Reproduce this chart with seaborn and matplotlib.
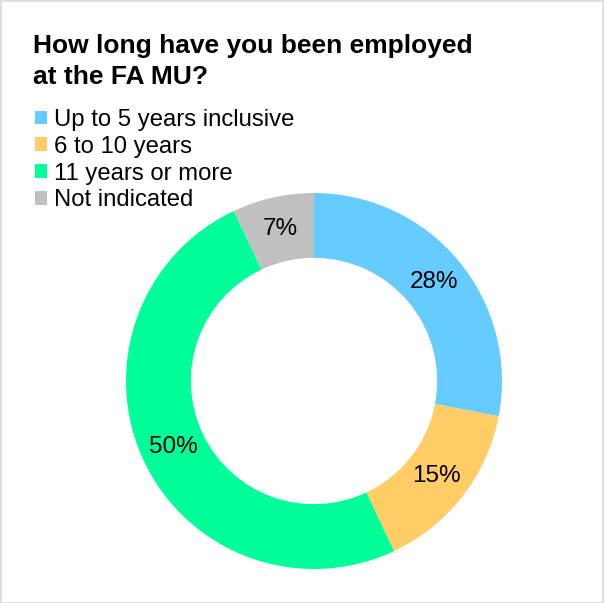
import matplotlib
matplotlib.use("Agg")
import matplotlib.pyplot as plt
import seaborn as sns
from matplotlib.patches import Patch, Rectangle

categories = ["Up to 5 years inclusive", "6 to 10 years", "11 years or more", "Not indicated"]
values = [28, 15, 50, 7]
colors = ["#66CCFF", "#FFCC66", "#00FF99", "#C0C0C0"]
title = "How long have you been employed\nat the FA MU?"

sns.set_theme(style="white")
plt.rcParams['font.family'] = ['Liberation Sans', 'DejaVu Sans']
plt.rcParams['text.color'] = 'black'

W, H = 606, 603
fig = plt.figure(figsize=(W / 100, H / 100), dpi=100)
fig.patch.set_facecolor("white")

cx, cy, R = 314, 381, 188
ax = fig.add_axes([(cx - R) / W, (H - cy - R) / H, 2 * R / W, 2 * R / H])
wedges, texts, autotexts = ax.pie(
    values, colors=sns.color_palette(colors), startangle=90, counterclock=False,
    radius=1, wedgeprops=dict(width=0.345, edgecolor="none", linewidth=0),
    autopct=lambda p: f"{p:.0f}%", pctdistance=0.827,
    textprops=dict(fontsize=17.5, color="black"))
ax.set_xlim(-1, 1)
ax.set_ylim(-1, 1)
ax.set_aspect("equal")
ax.axis("off")

fig.text(33 / W, 1 - 34 / H, title, ha="left", va="top", fontsize=19,
         fontweight="bold", linespacing=1.38, color="black")

handles = [Patch(facecolor=c, edgecolor="none") for c in colors]
fig.legend(handles, categories, loc="upper left",
           bbox_to_anchor=(35 / W, 1 - 109 / H), frameon=False,
           fontsize=17.2, handlelength=0.5, handleheight=0.5, handletextpad=0.28,
           labelspacing=0.2, borderaxespad=0, borderpad=0, labelcolor="black")

fig.add_artist(Rectangle((0.5 / W, 0.5 / H), 1 - 3.5 / W, 1 - 1.5 / H,
                         transform=fig.transFigure, fill=False,
                         edgecolor="#D9D9D9", linewidth=1.2))

fig.savefig("out.png", dpi=100)
